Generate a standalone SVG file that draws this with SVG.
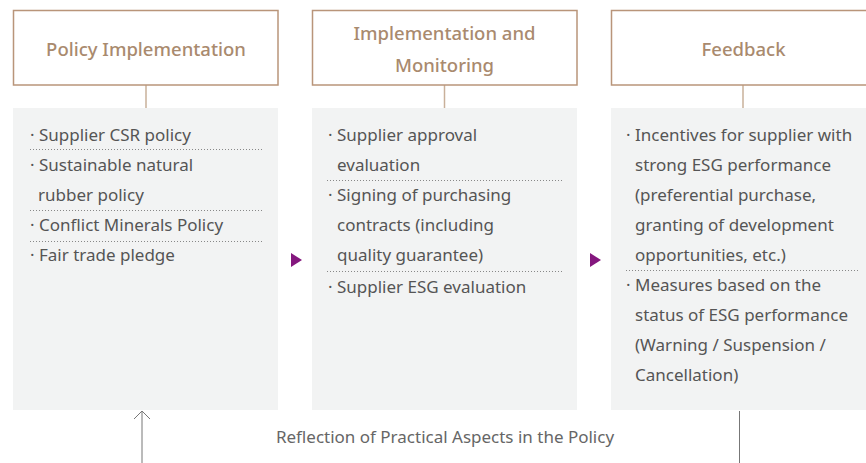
<svg xmlns="http://www.w3.org/2000/svg" width="866" height="463" viewBox="0 0 866 463">
<defs>
<style>
.hdr{fill:#fff;stroke:#b9957a;stroke-width:1.5}
.ht{font-family:"Noto Sans",sans-serif;font-size:18.5px;font-weight:500;fill:#a98a6e;text-anchor:middle}
.panel{fill:#f2f3f3}
.bt{font-family:"Noto Sans",sans-serif;font-size:17px;fill:#555}
.sep{stroke:#888;stroke-width:1;stroke-dasharray:1 2}
.tie{stroke:#c9b09a;stroke-width:1.5}
.tri{fill:#84177e}
.ln{stroke:#777;stroke-width:1;fill:none}
.ft{font-family:"Noto Sans",sans-serif;font-size:17px;fill:#666;text-anchor:middle}
</style>
</defs>
<rect width="866" height="463" fill="#fff"/>
<g id="connectors">
<line class="tie" x1="146" y1="85" x2="146" y2="108"/>
<line class="tie" x1="444.5" y1="85" x2="444.5" y2="108"/>
<line class="tie" x1="743" y1="85" x2="743" y2="108"/>
<polygon class="tri" points="291,253 302,260 291,267"/>
<polygon class="tri" points="590,253 601,260 590,267"/>
<line class="ln" x1="142" y1="411" x2="142" y2="463"/>
<polyline class="ln" points="134,419 142,411 150,419"/>
<line class="ln" x1="739.5" y1="411" x2="739.5" y2="463"/>
<text class="ft" x="445" y="443">Reflection of Practical Aspects in the Policy</text>
</g>
<g id="policy-implementation">
<rect class="hdr" x="13.5" y="10.5" width="264.5" height="74.5"/>
<text class="ht" x="146" y="56">Policy Implementation</text>
<rect class="panel" x="13" y="108" width="265" height="302"/>
<text class="bt" x="30" y="141">· Supplier CSR policy</text>
<line class="sep" x1="30" y1="149.5" x2="263" y2="149.5"/>
<text class="bt" x="30" y="171">· Sustainable natural</text>
<text class="bt" x="38" y="201">rubber policy</text>
<line class="sep" x1="30" y1="210.5" x2="263" y2="210.5"/>
<text class="bt" x="30" y="231">· Conflict Minerals Policy</text>
<line class="sep" x1="30" y1="241.5" x2="263" y2="241.5"/>
<text class="bt" x="30" y="261">· Fair trade pledge</text>
</g>
<g id="implementation-monitoring">
<rect class="hdr" x="312.5" y="10.5" width="264.5" height="74.5"/>
<text class="ht" x="444.5" y="39.5">Implementation and</text>
<text class="ht" x="444.5" y="71.5">Monitoring</text>
<rect class="panel" x="312" y="108" width="265" height="302"/>
<text class="bt" x="328" y="141">· Supplier approval</text>
<text class="bt" x="337" y="171">evaluation</text>
<line class="sep" x1="327" y1="180.5" x2="563" y2="180.5"/>
<text class="bt" x="328" y="201">· Signing of purchasing</text>
<text class="bt" x="337" y="231">contracts (including</text>
<text class="bt" x="337" y="261">quality guarantee)</text>
<line class="sep" x1="327" y1="271.5" x2="563" y2="271.5"/>
<text class="bt" x="328" y="293">· Supplier ESG evaluation</text>
</g>
<g id="feedback">
<rect class="hdr" x="611.5" y="10.5" width="264.5" height="74.5"/>
<text class="ht" x="743.5" y="56">Feedback</text>
<rect class="panel" x="611" y="108" width="265" height="302"/>
<text class="bt" x="626" y="141">· Incentives for supplier with</text>
<text class="bt" x="635" y="171">strong ESG performance</text>
<text class="bt" x="635" y="201">(preferential purchase,</text>
<text class="bt" x="635" y="231">granting of development</text>
<text class="bt" x="635" y="261">opportunities, etc.)</text>
<line class="sep" x1="626" y1="270.5" x2="860" y2="270.5"/>
<text class="bt" x="626" y="291">· Measures based on the</text>
<text class="bt" x="635" y="321">status of ESG performance</text>
<text class="bt" x="635" y="351">(Warning / Suspension /</text>
<text class="bt" x="635" y="381">Cancellation)</text>
</g>
</svg>
